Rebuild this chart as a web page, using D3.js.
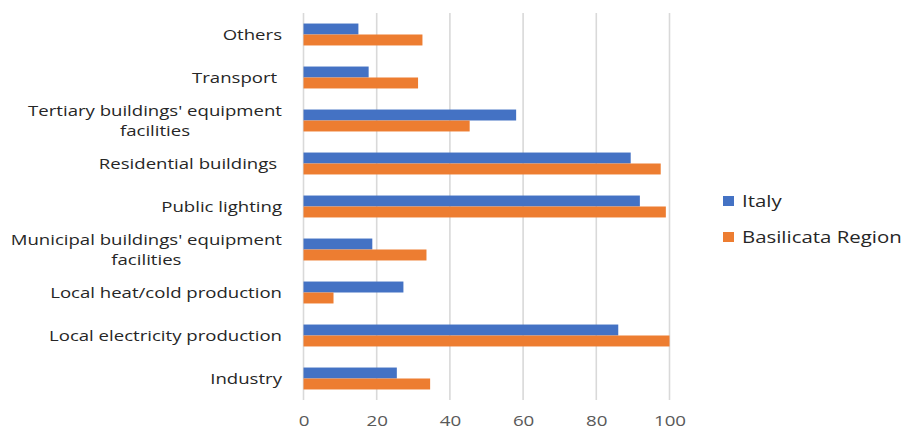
<!DOCTYPE html>
<html>
<head>
<meta charset="utf-8">
<script src="https://cdn.jsdelivr.net/npm/d3@7"></script>
<style>
  html, body { margin: 0; padding: 0; background: #fff; }
  svg { display: block; }
  text { font-family: "Open Sans", sans-serif; white-space: pre; }
</style>
</head>
<body>
<svg id="chart" width="908" height="431"></svg>
<script>
const categories = [
  "Others",
  "Transport ",
  "Tertiary buildings' equipment\nfacilities",
  "Residential buildings ",
  "Public lighting",
  "Municipal buildings' equipment\nfacilities",
  "Local heat/cold production",
  "Local electricity production",
  "Industry"
];
const seriesNames = ["Italy", "Basilicata Region"];
const italy =      [15.0, 17.8, 58.1, 89.4, 91.9, 18.8, 27.3, 86.0, 25.5];
const basilicata = [32.5, 31.3, 45.4, 97.6, 99.0, 33.6,  8.2, 100.0, 34.6];
const xTicks = [0, 20, 40, 60, 80, 100];
const colors = ["#4472C4", "#ED7D31"];

const svg = d3.select("#chart");
const x = d3.scaleLinear().domain([0, 100]).range([303.5, 669.5]);
const y0 = d3.scaleBand().domain(categories).range([13, 400])
  .paddingInner(0.49).paddingOuter(0.245);
const y1 = d3.scaleBand().domain(seriesNames).range([0, y0.bandwidth()]).padding(0);
const color = d3.scaleOrdinal().domain(seriesNames).range(colors);

// gridlines
svg.append("g").selectAll("line").data(xTicks).join("line")
  .attr("x1", d => x(d)).attr("x2", d => x(d))
  .attr("y1", 13).attr("y2", 400)
  .attr("stroke", "#d9d9d9").attr("stroke-width", 1.6);

// bars
const rows = categories.map((c, i) => ({ cat: c, values: [italy[i], basilicata[i]] }));
const g = svg.append("g").selectAll("g").data(rows).join("g")
  .attr("transform", d => `translate(0,${y0(d.cat)})`);
g.selectAll("rect").data(d => d.values.map((v, j) => ({ s: seriesNames[j], v })))
  .join("rect")
  .attr("x", x(0))
  .attr("y", d => y1(d.s))
  .attr("width", d => x(d.v) - x(0))
  .attr("height", y1.bandwidth())
  .attr("fill", d => color(d.s));

// x axis labels
const xAxis = d3.axisBottom(x).tickValues(xTicks).tickSize(0).tickPadding(0);
const ax = svg.append("g").attr("transform", "translate(0,421)").call(xAxis);
ax.select(".domain").remove();
ax.selectAll("text").attr("font-size", 15).attr("fill", "#595959")
  .attr("font-family", "Open Sans, sans-serif").attr("dy", "0.35em")
  .attr("transform", "scale(1.25,1)");

// category labels (horizontally stretched like the reference rendering)
const labelRight = 282;
const stretch = 1.24;
const labelGroup = svg.append("g")
  .attr("transform", `translate(${labelRight},0) scale(${stretch},1) translate(${-labelRight},0)`);
categories.forEach(c => {
  const lines = c.split("\n");
  const cy = y0(c) + y0.bandwidth() / 2;
  const lh = 20;
  if (lines.length === 1) {
    labelGroup.append("text")
      .attr("x", labelRight).attr("y", cy).attr("dy", "0.35em")
      .attr("text-anchor", "end").attr("font-size", 15).attr("fill", "#262626")
      .text(lines[0]);
  } else {
    const t = labelGroup.append("text")
      .attr("font-size", 15).attr("fill", "#262626").attr("text-anchor", "middle");
    const tmp = t.append("tspan").text(lines[0]);
    const w = tmp.node().getComputedTextLength();
    tmp.remove();
    const cx = labelRight - w / 2;
    lines.forEach((ln, k) => {
      t.append("tspan").attr("x", cx)
        .attr("y", cy + (k - (lines.length - 1) / 2) * lh)
        .attr("dy", "0.35em").text(ln);
    });
  }
});

// legend
const leg = svg.append("g").selectAll("g").data(seriesNames).join("g")
  .attr("transform", (d, i) => `translate(723,${201 + i * 36})`);
leg.append("rect").attr("x", 0).attr("y", -5).attr("width", 11).attr("height", 10)
  .attr("fill", d => color(d));
leg.append("text").attr("x", 19).attr("y", 0).attr("dy", "0.35em")
  .attr("transform", "translate(19,0) scale(1.2,1) translate(-19,0)")
  .attr("font-size", 17).attr("fill", "#262626").text(d => d);
</script>
</body>
</html>
